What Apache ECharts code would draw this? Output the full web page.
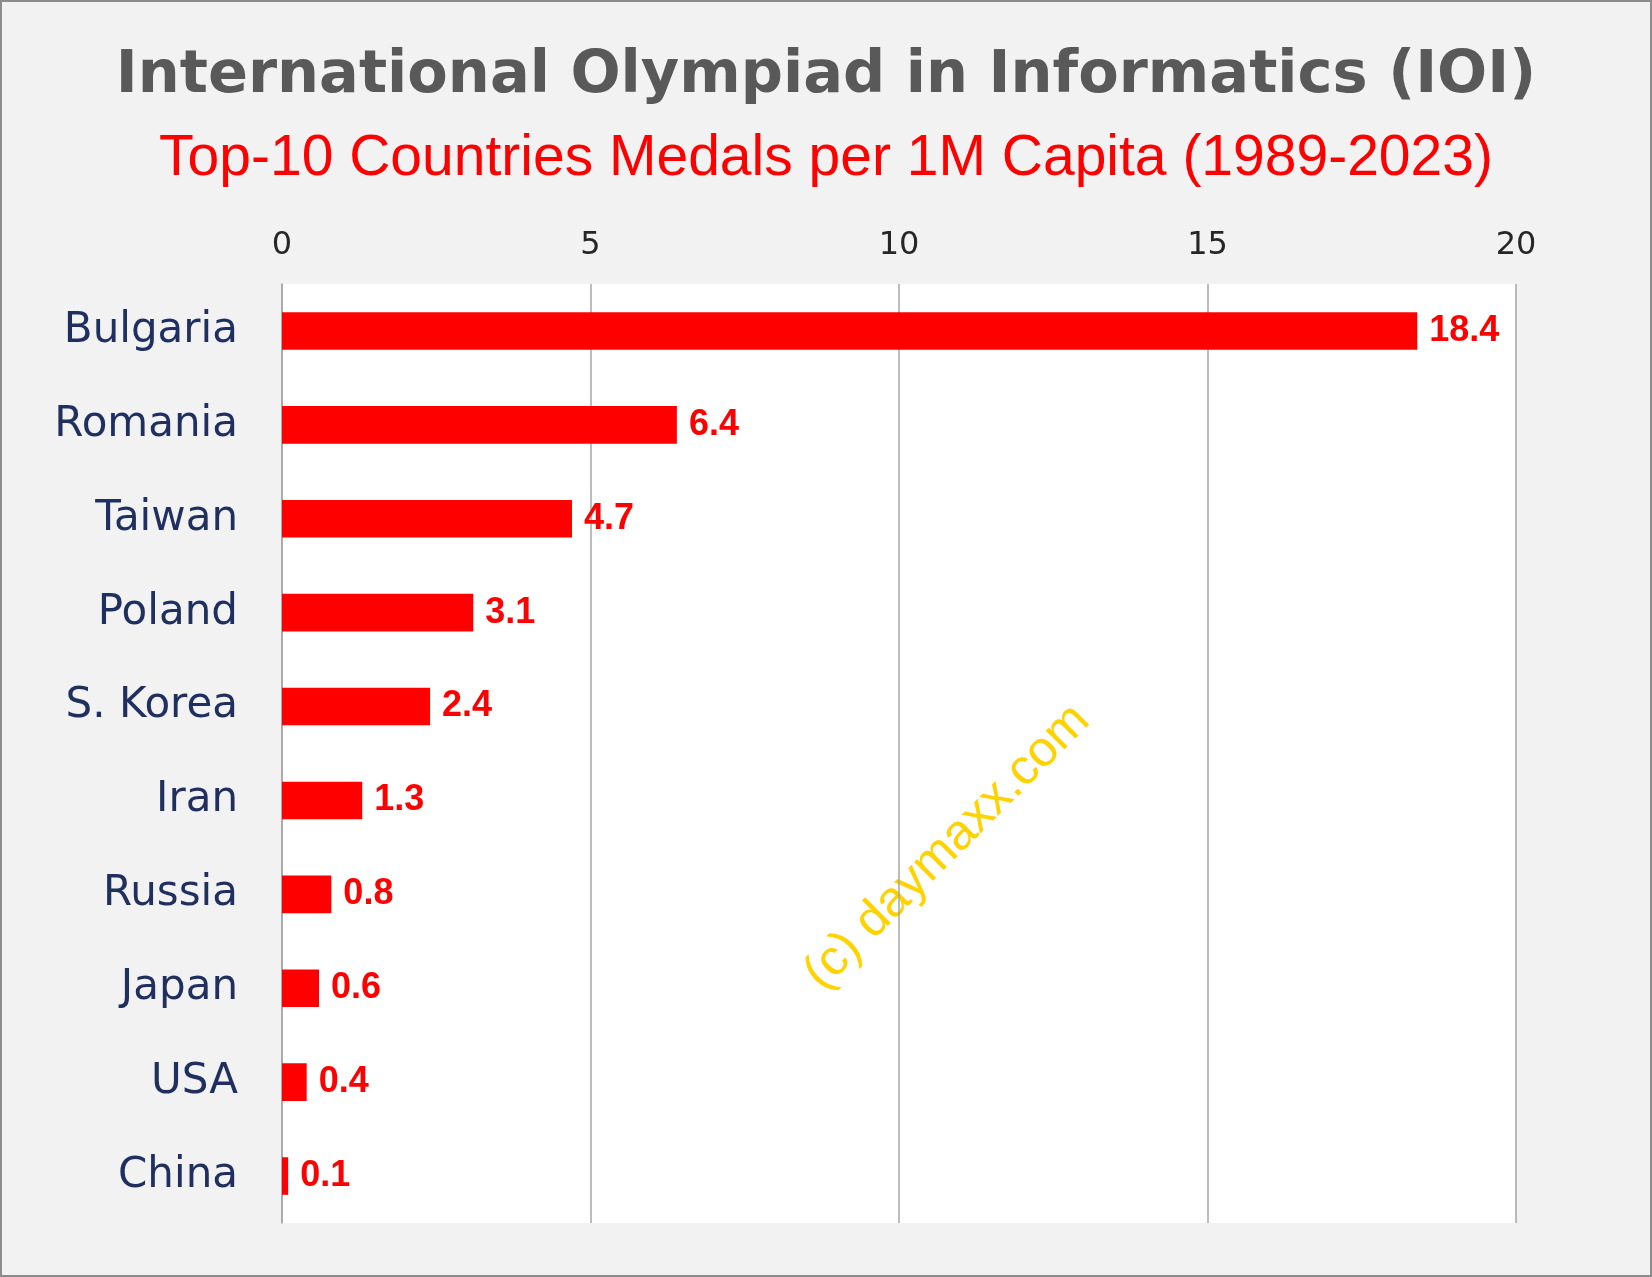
<!DOCTYPE html>
<html>
<head>
<meta charset="utf-8">
<script src="https://cdn.jsdelivr.net/npm/echarts@6/dist/echarts.min.js"></script>
<style>
html,body{margin:0;padding:0;background:#f2f2f2;}
#main{width:1652px;height:1277px;box-sizing:border-box;border:2px solid #8c8c8c;}
</style>
</head>
<body>
<div id="main"></div>
<script>
var countries = ['Bulgaria','Romania','Taiwan','Poland','S. Korea','Iran','Russia','Japan','USA','China'];
var medalsPerMillion = [18.4, 6.4, 4.7, 3.1, 2.4, 1.3, 0.8, 0.6, 0.4, 0.1];

var chart = echarts.init(document.getElementById('main'));
chart.setOption({
  backgroundColor: '#f2f2f2',
  animation: false,
  title: [{
    text: 'International Olympiad in Informatics (IOI)',
    left: 'center', top: 40,
    textStyle: {fontFamily: 'DejaVu Sans', fontWeight: 'bold', fontSize: 59, color: '#595959'}
  }, {
    text: 'Top-10 Countries Medals per 1M Capita (1989-2023)',
    left: 'center', top: 124,
    textStyle: {fontFamily: 'Liberation Sans', fontWeight: 'normal', fontSize: 57, color: '#ff0000'}
  }],
  graphic: [{
    type: 'text',
    x: 793, y: 962,
    rotation: Math.PI * 45 / 180,
    style: {text: '(c) daymaxx.com', fill: '#ffd200', font: '50px Liberation Sans'}
  }],
  grid: {
    left: 280, right: 134, top: 282, bottom: 52,
    show: true, backgroundColor: '#ffffff', borderWidth: 0
  },
  xAxis: {
    type: 'value', position: 'top', min: 0, max: 20, interval: 5,
    axisLine: {show: false}, axisTick: {show: false},
    axisLabel: {fontFamily: 'DejaVu Sans', fontSize: 32, color: '#262626', margin: 22},
    splitLine: {lineStyle: {color: '#a6a6a6', width: 1.5}}
  },
  yAxis: {
    type: 'category', inverse: true, data: countries,
    axisLine: {lineStyle: {color: '#a6a6a6', width: 1.5}},
    axisTick: {length: 12, lineStyle: {color: '#a6a6a6'}},
    axisLabel: {fontFamily: 'DejaVu Sans', fontSize: 42, color: '#1f2f5f', margin: 44}
  },
  series: [{
    type: 'bar', data: medalsPerMillion, barWidth: '40%',
    itemStyle: {color: '#ff0000'},
    label: {show: true, position: 'right', distance: 12, fontFamily: 'Liberation Sans',
      fontWeight: 'bold', fontSize: 36, color: '#ff0000'}
  }]
});
</script>
</body>
</html>
